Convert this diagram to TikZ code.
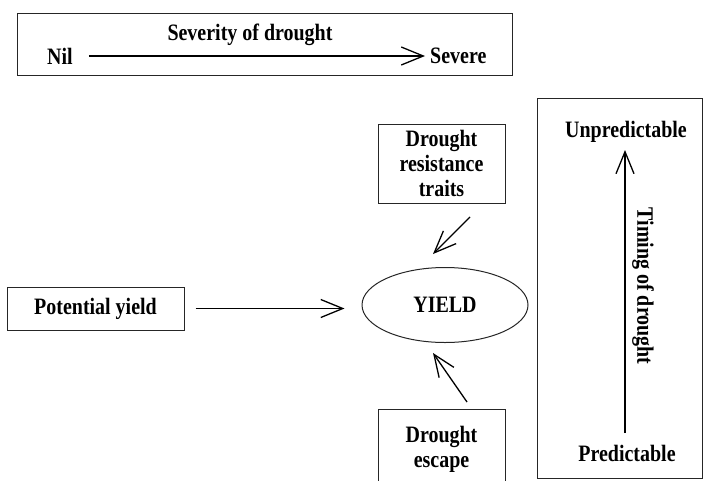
\documentclass[tikz,border=0pt]{standalone}
\usepackage{fontspec}
\setmainfont[FakeStretch=0.85]{Liberation Serif}
\usetikzlibrary{arrows.meta,shapes.geometric}
\tikzset{
  txt/.style={font=\fontsize{23.5}{25}\selectfont\bfseries, inner sep=0pt, align=center},
  boxnode/.style={draw=black!85, line width=1pt, inner sep=0pt, align=center, font=\fontsize{23.5}{25}\selectfont\bfseries},
  arr/.style={line width=1.3pt, -{Straight Barb[length=22pt,width=18pt,line width=1.3pt]}}
}
\begin{document}
\begin{tikzpicture}[x=1pt,y=-1pt]
\useasboundingbox (0,0) rectangle (704,480);
\clip (0,0) rectangle (704,480);
% top box
\node[boxnode, minimum width=495pt, minimum height=62pt] (topbox) at (264.5,44) {};
\node[txt] (sev) at (250,35) {Severity of drought};
\node[txt, anchor=west] (nil) at (47,56) {Nil};
\node[txt, anchor=west] (severe) at (430,56) {Severe};
\draw[arr, shorten <=16pt, shorten >=5pt] (nil.east) -- (severe.west);
% right box
\node[boxnode, minimum width=165pt, minimum height=380pt] (rbox) at (619.5,288) {};
\node[txt] (unp) at (626,132) {Unpredictable};
\node[txt] (pred) at (627,453) {Predictable};
\node[txt, rotate=-90] (timing) at (643,286) {Timing of drought};
\coordinate (ptop) at (625,150);
\coordinate (pbot) at (625,433);
\draw[arr] (pbot) -- (ptop);
% yield
\node[draw=black!85, line width=1pt, ellipse, minimum width=166pt, minimum height=75pt, inner sep=0pt, font=\fontsize{23.5}{25}\selectfont\bfseries] (yield) at (445,305) {YIELD};
% potential yield
\node[boxnode, minimum width=177pt, minimum height=43pt] (pot) at (95.5,308.5) {Potential yield};
\draw[arr, shorten <=11pt, shorten >=17pt] (pot.east) -- (pot.east -| yield.west);
% drought resistance traits
\node[boxnode, minimum width=127pt, minimum height=79pt] (res) at (441.5,163.5) {Drought\\resistance\\traits};
\coordinate (r1) at (470,217);
\coordinate (r2) at (433,254);
\draw[arr] (r1) -- (r2);
% drought escape
\node[boxnode, minimum width=127pt, minimum height=81pt] (esc) at (441.5,449.5) {Drought\\escape};
\coordinate (e1) at (467,402);
\coordinate (e2) at (433,353);
\draw[arr] (e1) -- (e2);
\end{tikzpicture}
\end{document}
